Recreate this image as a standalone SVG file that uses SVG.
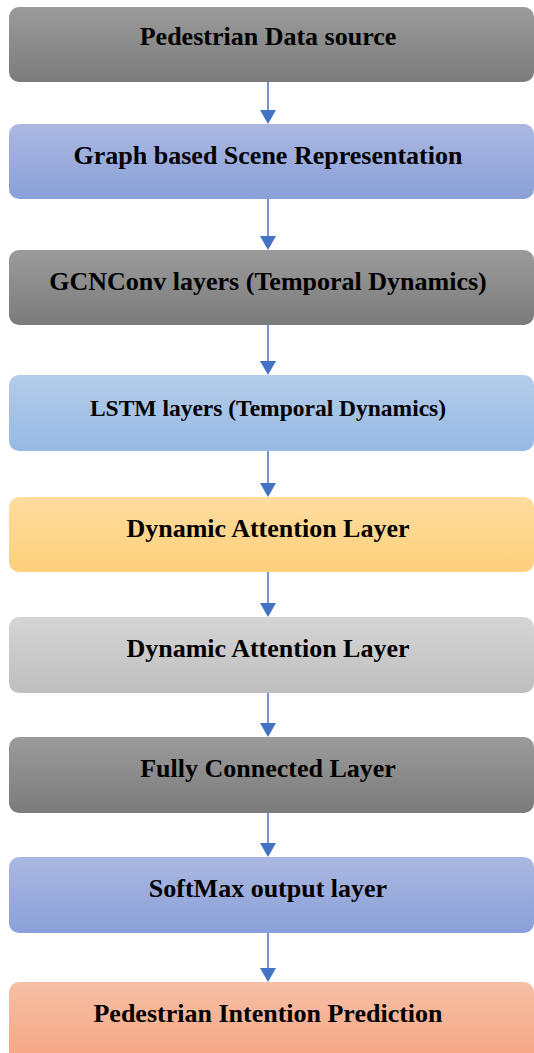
<svg xmlns="http://www.w3.org/2000/svg" width="534" height="1053" viewBox="0 0 534 1053" font-family="Liberation Serif, Times New Roman, serif">
  <style>
    .box { stroke: none; }
    .label { font-weight: 700; font-size: 26px; fill: #000; text-anchor: middle; }
    .small { font-size: 23.5px; }
    .conn { stroke: #4472c4; stroke-width: 1.5; fill: none; }
    .head { fill: #4472c4; }
  </style>
  <defs>
    <linearGradient id="gDark" x1="0" y1="0" x2="0" y2="1">
      <stop offset="0" stop-color="#9b9b9b"/>
      <stop offset="1" stop-color="#7b7b7b"/>
    </linearGradient>
    <linearGradient id="gBlue" x1="0" y1="0" x2="0" y2="1">
      <stop offset="0" stop-color="#abb8e1"/>
      <stop offset="1" stop-color="#8aa0d8"/>
    </linearGradient>
    <linearGradient id="gSky" x1="0" y1="0" x2="0" y2="1">
      <stop offset="0" stop-color="#b4cce9"/>
      <stop offset="1" stop-color="#97b9e3"/>
    </linearGradient>
    <linearGradient id="gGold" x1="0" y1="0" x2="0" y2="1">
      <stop offset="0" stop-color="#fedc9e"/>
      <stop offset="1" stop-color="#fdd07c"/>
    </linearGradient>
    <linearGradient id="gLight" x1="0" y1="0" x2="0" y2="1">
      <stop offset="0" stop-color="#d5d5d5"/>
      <stop offset="1" stop-color="#bfbfbf"/>
    </linearGradient>
    <linearGradient id="gSalmon" x1="0" y1="0" x2="0" y2="1">
      <stop offset="0" stop-color="#f6bfa5"/>
      <stop offset="1" stop-color="#f5a684"/>
    </linearGradient>
  </defs>

  <g id="connectors">
    <line class="conn" x1="268" y1="82" x2="268" y2="112"/>
    <polygon class="head" points="260,110 276,110 268,124"/>
    <line class="conn" x1="268" y1="199" x2="268" y2="238"/>
    <polygon class="head" points="260,236 276,236 268,250"/>
    <line class="conn" x1="268" y1="325" x2="268" y2="363"/>
    <polygon class="head" points="260,361 276,361 268,375"/>
    <line class="conn" x1="268" y1="451" x2="268" y2="485"/>
    <polygon class="head" points="260,483 276,483 268,497"/>
    <line class="conn" x1="268" y1="572" x2="268" y2="605"/>
    <polygon class="head" points="260,603 276,603 268,617"/>
    <line class="conn" x1="268" y1="693" x2="268" y2="725"/>
    <polygon class="head" points="260,723 276,723 268,737"/>
    <line class="conn" x1="268" y1="813" x2="268" y2="845"/>
    <polygon class="head" points="260,843 276,843 268,857"/>
    <line class="conn" x1="268" y1="933" x2="268" y2="970"/>
    <polygon class="head" points="260,968 276,968 268,982"/>
  </g>

  <g id="n1">
    <rect class="box" x="9" y="7" width="525" height="75" rx="10" fill="url(#gDark)"/>
    <text class="label" x="268" y="45" font-family="Liberation Serif">Pedestrian Data source</text>
  </g>
  <g id="n2">
    <rect class="box" x="9" y="124" width="525" height="75" rx="10" fill="url(#gBlue)"/>
    <text class="label" x="268" y="164" font-family="Liberation Serif">Graph based Scene Representation</text>
  </g>
  <g id="n3">
    <rect class="box" x="9" y="250" width="525" height="75" rx="10" fill="url(#gDark)"/>
    <text class="label" x="268" y="290" font-family="Liberation Serif">GCNConv layers (Temporal Dynamics)</text>
  </g>
  <g id="n4">
    <rect class="box" x="9" y="375" width="525" height="76" rx="10" fill="url(#gSky)"/>
    <text class="label small" x="268" y="416" font-family="Liberation Serif">LSTM layers (Temporal Dynamics)</text>
  </g>
  <g id="n5">
    <rect class="box" x="9" y="497" width="525" height="75" rx="10" fill="url(#gGold)"/>
    <text class="label" x="268" y="537" font-family="Liberation Serif">Dynamic Attention Layer</text>
  </g>
  <g id="n6">
    <rect class="box" x="9" y="617" width="525" height="76" rx="10" fill="url(#gLight)"/>
    <text class="label" x="268" y="657" font-family="Liberation Serif">Dynamic Attention Layer</text>
  </g>
  <g id="n7">
    <rect class="box" x="9" y="737" width="525" height="76" rx="10" fill="url(#gDark)"/>
    <text class="label" x="268" y="777" font-family="Liberation Serif">Fully Connected Layer</text>
  </g>
  <g id="n8">
    <rect class="box" x="9" y="857" width="525" height="76" rx="10" fill="url(#gBlue)"/>
    <text class="label" x="268" y="897" font-family="Liberation Serif">SoftMax output layer</text>
  </g>
  <g id="n9">
    <rect class="box" x="9" y="982" width="525" height="80" rx="10" fill="url(#gSalmon)"/>
    <text class="label" x="268" y="1022" font-family="Liberation Serif">Pedestrian Intention Prediction</text>
  </g>
</svg>
